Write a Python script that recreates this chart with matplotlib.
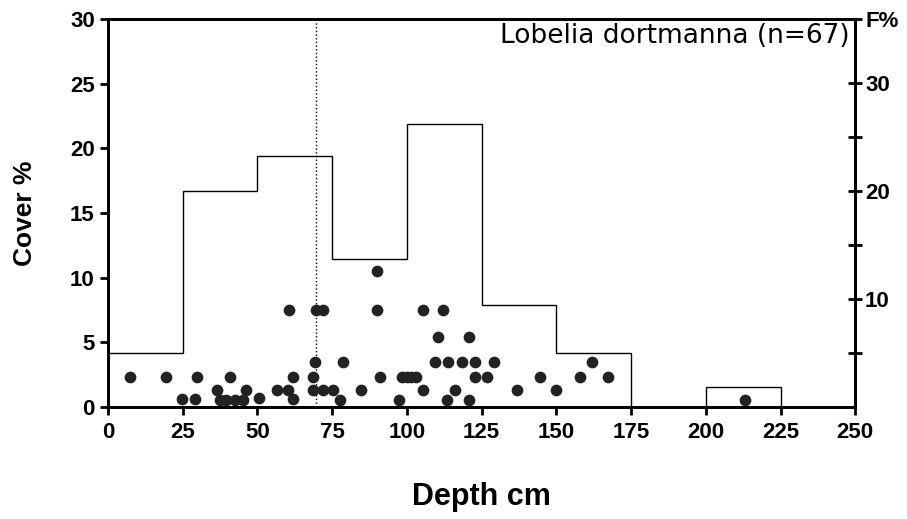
import matplotlib.pyplot as plt

# depth (cm) and cover (%) of each sample
depth = [7.4, 19.4, 24.7, 29.1, 29.7, 36.4, 40.8, 37.5, 39.5, 42.5,
         45.2, 46.1, 50.6, 56.5, 60.6, 60.4, 62.0, 61.8, 89.9, 89.9,
         69.5, 72.0, 105.3, 112.2, 110.5, 120.9, 69.3, 78.5, 109.4, 113.6,
         118.3, 122.8, 68.7, 91.0, 98.5, 100.0, 101.5, 103.0, 122.8, 68.7,
         72.0, 75.4, 84.7, 105.3, 116.1, 77.6, 97.5, 113.3, 120.9, 129.3,
         126.7, 136.7, 144.5, 149.8, 157.9, 161.8, 167.2, 213.0]
cover = [2.3, 2.3, 0.6, 0.6, 2.3, 1.3, 2.3, 0.5, 0.5, 0.5,
         0.5, 1.3, 0.7, 1.3, 7.5, 1.3, 2.3, 0.6, 10.5, 7.5,
         7.5, 7.5, 7.5, 7.5, 5.4, 5.4, 3.5, 3.5, 3.5, 3.5,
         3.5, 3.5, 2.3, 2.3, 2.3, 2.3, 2.3, 2.3, 2.3, 1.3,
         1.3, 1.3, 1.3, 1.3, 1.3, 0.5, 0.5, 0.5, 0.5, 3.5,
         2.3, 1.3, 2.3, 1.3, 2.3, 3.5, 2.3, 0.5]

# frequency (F%) per 25 cm depth class
bin_edges = [0, 25, 50, 75, 100, 125, 150, 175, 200, 225, 250]
freq = [5.0, 20.0, 23.2, 13.7, 26.2, 9.4, 5.0, 0, 1.85, 0]
median_depth = 69.5

plt.rcParams['font.family'] = 'Liberation Sans'
fig = plt.figure(figsize=(9.07, 5.19), dpi=100)
ax = fig.add_axes([0.119, 0.216, 0.824, 0.747])
ax2 = ax.twinx()

ax.scatter(depth, cover, s=55, color='#222222', zorder=3)
ax.axvline(median_depth, color='black', linestyle=':', linewidth=1)
ax2.stairs(freq, bin_edges, color='black', linewidth=1)

ax.set_xlim(0, 250)
ax.set_ylim(0, 30)
ax.set_xticks(range(0, 251, 25))
ax.set_yticks(range(0, 31, 5))
ax2.set_ylim(0, 35.9)
ax2.set_yticks([5, 10, 15, 20, 25, 30, 35.9])
ax2.set_yticklabels(['', '10', '', '20', '', '30', 'F%'])

for a in (ax, ax2):
    for s in a.spines.values():
        s.set_linewidth(2)
ax.tick_params(direction='out', length=6, width=2, labelsize=16)
ax.tick_params(axis='x', pad=5)
ax2.tick_params(direction='inout', length=10, width=2, labelsize=16, pad=2)
for lbl in ax.get_xticklabels() + ax.get_yticklabels() + ax2.get_yticklabels():
    lbl.set_fontweight('bold')

ax.set_xlabel('Depth cm', fontsize=22, fontweight='bold', labelpad=28)
ax.set_ylabel('Cover %', fontsize=19, fontweight='bold', labelpad=24)
ax.text(0.993, 0.938, 'Lobelia dortmanna (n=67)', transform=ax.transAxes,
        ha='right', va='baseline', fontsize=19, family='DejaVu Sans')

fig.savefig('out.png', dpi=100)
